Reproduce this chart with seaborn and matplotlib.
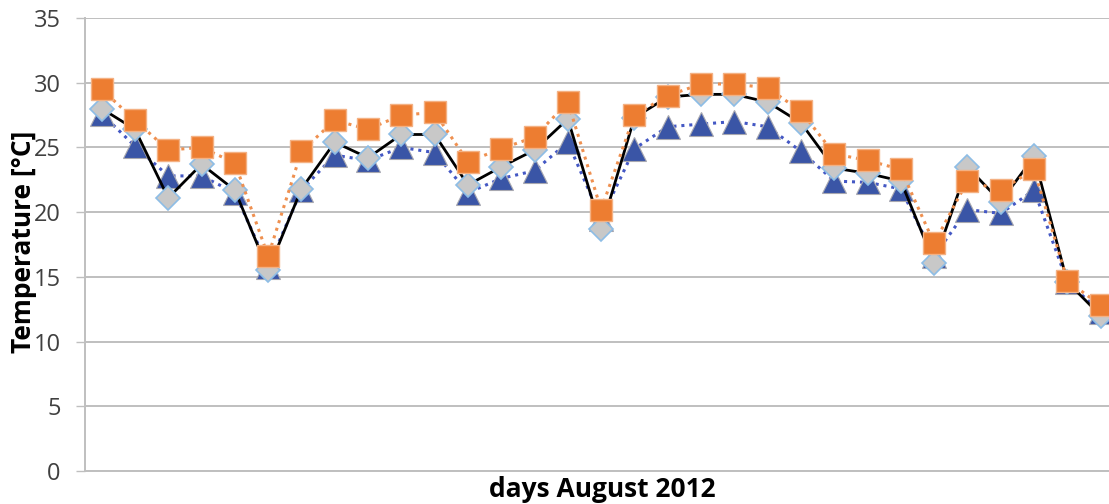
import matplotlib
matplotlib.use("Agg")
import matplotlib.pyplot as plt
import seaborn as sns
import pandas as pd

days = list(range(1, 32))
series_triangle = [27.6, 25.1, 22.8, 22.8, 21.5, 15.8, 21.7, 24.4, 24.0, 25.0, 24.6,
                   21.5, 22.6, 23.2, 25.4, 19.5, 24.9, 26.6, 26.8, 27.0, 26.6, 24.7,
                   22.4, 22.3, 21.8, 16.6, 20.2, 19.9, 21.7, 14.6, 12.3]
series_diamond = [28.0, 26.4, 21.1, 23.7, 21.7, 15.5, 21.8, 25.4, 24.2, 26.0, 26.0,
                  22.1, 23.5, 24.8, 27.2, 18.7, 27.3, 28.9, 29.1, 29.1, 28.5, 26.9,
                  23.4, 23.0, 22.4, 16.1, 23.5, 20.8, 24.3, 14.6, 12.0]
series_square = [29.5, 27.1, 24.8, 25.0, 23.8, 16.6, 24.7, 27.1, 26.4, 27.5, 27.7,
                 23.9, 24.9, 25.8, 28.5, 20.2, 27.5, 29.0, 29.9, 29.9, 29.6, 27.8,
                 24.5, 24.0, 23.3, 17.6, 22.4, 21.7, 23.3, 14.7, 12.8]
y_ticks = [0, 5, 10, 15, 20, 25, 30, 35]

df = pd.DataFrame({"day": days, "tri": series_triangle,
                   "dia": series_diamond, "sq": series_square})

sns.set_theme(style="white")
plt.rcParams["font.family"] = ["Open Sans", "DejaVu Sans"]

fig = plt.figure(figsize=(11.09, 5.04), dpi=100)
ax = fig.add_axes([85 / 1109, 33 / 504, 1032.3 / 1109, 453 / 504])

sns.lineplot(data=df, x="day", y="tri", ax=ax, sort=False, color="#4458C4",
             linestyle=(0, (1, 1.6)), linewidth=2.2, marker="^", markersize=17,
             markerfacecolor="#3A55A6", markeredgecolor="#A8A8B0",
             markeredgewidth=0.8, zorder=3, clip_on=False)
sns.lineplot(data=df, x="day", y="dia", ax=ax, sort=False, color="black",
             linestyle="-", linewidth=2.0, marker="D", markersize=12.5,
             markerfacecolor="#C8C8C8", markeredgecolor="#8DBDE6",
             markeredgewidth=1.2, zorder=4, clip_on=False)
sns.lineplot(data=df, x="day", y="sq", ax=ax, sort=False, color="#EF9050",
             linestyle=(0, (1, 1.6)), linewidth=2.2, marker="s", markersize=15.5,
             markerfacecolor="#ED7D31", markeredgecolor="#F4B183",
             markeredgewidth=1.0, zorder=5, clip_on=False)

ax.set_xlim(0.5, 31.5)
ax.set_ylim(0, 35)
ax.set_yticks(y_ticks)
ax.set_yticklabels([str(v) for v in y_ticks])
ax.set_xticks([])
ax.grid(axis="y", color="#BFBFBF", linewidth=1.4)
ax.grid(axis="x", visible=False)
ax.set_axisbelow(True)
for side in ["top", "right"]:
    ax.spines[side].set_visible(False)
ax.spines["left"].set_color("#BFBFBF")
ax.spines["left"].set_linewidth(1.4)
ax.spines["bottom"].set_color("#BFBFBF")
ax.spines["bottom"].set_linewidth(1.4)
ax.tick_params(axis="y", which="both", left=True, length=6.5, width=1.0,
               color="#BFBFBF", pad=11, labelsize=17, labelcolor="#404040")
ax.set_xlabel("")
ax.set_ylabel("")

fig.text(602 / 1109, (504 - 476) / 504, "days August 2012", ha="center", va="top",
         fontsize=19, fontweight="bold", color="black")
fig.text(24 / 1109, (504 - 242) / 504, "Temperature [°C]", ha="center", va="center",
         rotation=90, fontsize=19, fontweight="bold", color="black")

fig.savefig("out.png", dpi=100)
